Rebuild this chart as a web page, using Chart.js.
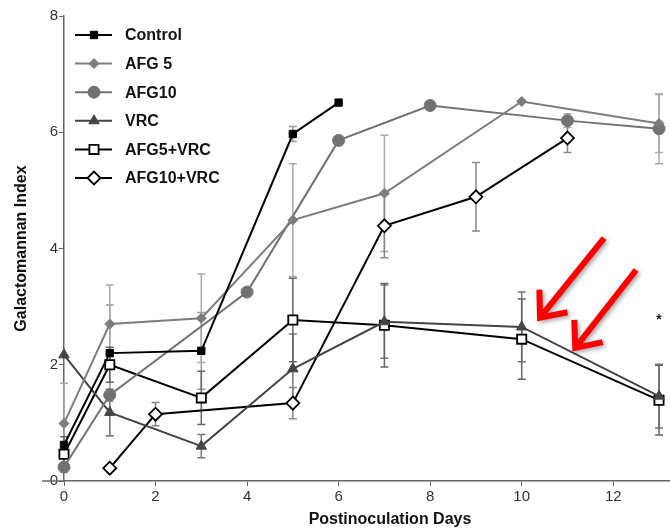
<!DOCTYPE html>
<html><head><meta charset="utf-8">
<script src="https://cdn.jsdelivr.net/npm/chart.js@4/dist/chart.umd.min.js"></script>
<style>html,body{margin:0;padding:0;background:#fff}#wrap{width:670px;height:529px;position:relative}</style>
</head><body><div id="wrap"><canvas id="c"></canvas></div>
<script>
// ---- data ----
const seriesNames = ['Control','AFG 5','AFG10','VRC','AFG5+VRC','AFG10+VRC'];
const controlDays  = [0,1,3,5,6];
const controlGM    = [0.62,2.20,2.24,5.97,6.51];
const controlErr   = [null,0.83,0.66,0.13,null];
const afg5Days     = [0,1,3,5,7,10,13];
const afg5GM       = [0.99,2.70,2.80,4.49,4.95,6.53,6.15];
const afg5Err      = [0.69,0.67,0.76,0.97,1.0,null,0.5];
const afg10Days    = [0,1,4,6,8,11,13];
const afg10GM      = [0.24,1.48,3.25,5.86,6.46,6.20,6.06];
const afg10Err     = [null,0.7,null,null,null,0.12,0.6];
const vrcDays      = [0,1,3,5,7,10,13];
const vrcGM        = [2.17,1.18,0.60,1.93,2.74,2.65,1.46];
const vrcErr       = [null,0.4,0.2,0.6,0.63,0.6,0.55];
const afg5vrcDays  = [0,1,3,5,7,10,13];
const afg5vrcGM    = [0.46,2.00,1.43,2.77,2.68,2.44,1.39];
const afg5vrcErr   = [0.3,0.3,0.46,0.72,0.72,0.69,0.6];
const afg10vrcDays = [1,2,5,7,9,11];
const afg10vrcGM   = [0.22,1.15,1.34,4.39,4.89,5.90];
const afg10vrcErr  = [null,0.2,0.27,0.55,0.59,0.25];
const xTickValues  = [0,2,4,6,8,10,12];
const yTickValues  = [0,2,4,6,8];
const xTitle = 'Postinoculation Days';
const yTitle = 'Galactomannan Index';
// annotation arrows in data units: [startDay, startGM, tipDay, tipGM]
const arrowsData = [[11.8,4.18,10.4,2.81],[12.5,3.63,11.17,2.29]];
const starMark = {day:13, gm:2.82, text:'*'};

const FONT = '"Liberation Sans", Arial, Helvetica, sans-serif';
const pts = (d, v) => d.map((x, i) => ({x, y: v[i]}));

function ds(label, days, vals, errs, color, style, radius, fill, errColor, bw) {
  return {
    label, data: pts(days, vals), errors: errs, errColor,
    borderColor: color, backgroundColor: fill,
    pointBackgroundColor: fill, pointBorderColor: color,
    pointStyle: style, pointRadius: radius, pointHoverRadius: radius,
    pointBorderWidth: bw, borderWidth: 2, tension: 0, clip: false
  };
}

const datasets = [
  ds(seriesNames[0], controlDays, controlGM, controlErr, '#000000', 'rect', 5.2, '#000000', '#999999', 1),
  ds(seriesNames[1], afg5Days, afg5GM, afg5Err, '#7d7d7d', 'rectRot', 5, '#7d7d7d', '#aaaaaa', 1),
  ds(seriesNames[2], afg10Days, afg10GM, afg10Err, '#727272', 'circle', 6, '#727272', '#aaaaaa', 1),
  ds(seriesNames[3], vrcDays, vrcGM, vrcErr, '#444444', 'triangle', 6, '#444444', '#777777', 1),
  ds(seriesNames[4], afg5vrcDays, afg5vrcGM, afg5vrcErr, '#000000', 'rect', 6.5, '#ffffff', '#666666', 1.8),
  ds(seriesNames[5], afg10vrcDays, afg10vrcGM, afg10vrcErr, '#000000', 'rectRot', 6.5, '#ffffff', '#888888', 1.8)
];

const errorBars = {
  id: 'errorBars',
  beforeDatasetsDraw(chart) {
    const ctx = chart.ctx, y = chart.scales.y;
    chart.data.datasets.forEach((d, i) => {
      const meta = chart.getDatasetMeta(i);
      ctx.save();
      ctx.strokeStyle = d.errColor; ctx.lineWidth = 1.5;
      meta.data.forEach((p, j) => {
        const e = d.errors[j];
        if (e == null) return;
        const v = d.data[j].y;
        const top = y.getPixelForValue(v + e), bot = y.getPixelForValue(v - e);
        ctx.beginPath();
        ctx.moveTo(p.x, top); ctx.lineTo(p.x, bot);
        ctx.moveTo(p.x - 4, top); ctx.lineTo(p.x + 4, top);
        ctx.moveTo(p.x - 4, bot); ctx.lineTo(p.x + 4, bot);
        ctx.stroke();
      });
      ctx.restore();
    });
  }
};

const extras = {
  id: 'extras',
  afterDraw(chart) {
    const ctx = chart.ctx, ca = chart.chartArea, sx = chart.scales.x, sy = chart.scales.y;
    ctx.save();
    // x-axis line extension to the left of the y axis
    ctx.strokeStyle = '#666'; ctx.lineWidth = 1.5;
    ctx.beginPath(); ctx.moveTo(ca.left - 22, ca.bottom); ctx.lineTo(ca.left, ca.bottom); ctx.stroke();
    // axis titles
    ctx.fillStyle = '#111';
    ctx.font = 'bold 16px ' + FONT;
    ctx.textAlign = 'center'; ctx.textBaseline = 'middle';
    ctx.fillText(xTitle, (ca.left + ca.right) / 2 + 23, ca.bottom + 39);
    ctx.save();
    ctx.translate(22, (ca.top + ca.bottom) / 2);
    ctx.rotate(-Math.PI / 2);
    ctx.fillText(yTitle, 0, 0);
    ctx.restore();
    // legend
    chart.data.datasets.forEach((d, i) => {
      const ly = ca.top + 19 + i * 28.6;
      const lx = ca.left + 11;
      ctx.strokeStyle = d.borderColor; ctx.lineWidth = 2;
      ctx.beginPath(); ctx.moveTo(lx, ly); ctx.lineTo(lx + 37, ly); ctx.stroke();
      ctx.fillStyle = d.pointBackgroundColor; ctx.strokeStyle = d.pointBorderColor;
      ctx.lineWidth = d.pointBorderWidth;
      Chart.helpers.drawPoint(ctx, {pointStyle: d.pointStyle, radius: d.pointRadius, rotation: 0, borderWidth: d.pointBorderWidth}, lx + 19, ly);
      ctx.fillStyle = '#111';
      ctx.font = 'bold 16px ' + FONT;
      ctx.textAlign = 'left'; ctx.textBaseline = 'middle';
      ctx.fillText(d.label, lx + 50, ly + 1);
    });
    // asterisk
    ctx.fillStyle = '#222';
    ctx.font = 'bold 14px ' + FONT;
    ctx.textAlign = 'center';
    ctx.fillText(starMark.text, sx.getPixelForValue(starMark.day), sy.getPixelForValue(starMark.gm) + 3);
    // red arrows
    arrowsData.forEach(a => {
      const x1 = sx.getPixelForValue(a[0]), y1 = sy.getPixelForValue(a[1]);
      const x2 = sx.getPixelForValue(a[2]), y2 = sy.getPixelForValue(a[3]);
      const ang = Math.atan2(y2 - y1, x2 - x1);
      const L = 28, spread = 0.7;
      ctx.save();
      ctx.shadowColor = 'rgba(0,0,0,0.35)'; ctx.shadowBlur = 4; ctx.shadowOffsetX = 2; ctx.shadowOffsetY = 2;
      ctx.strokeStyle = '#ff0000'; ctx.lineWidth = 6; ctx.lineCap = 'butt'; ctx.lineJoin = 'miter';
      ctx.beginPath();
      ctx.moveTo(x1, y1); ctx.lineTo(x2, y2);
      ctx.moveTo(x2 - L * Math.cos(ang - spread), y2 - L * Math.sin(ang - spread));
      ctx.lineTo(x2, y2);
      ctx.lineTo(x2 - L * Math.cos(ang + spread), y2 - L * Math.sin(ang + spread));
      ctx.stroke();
      ctx.restore();
    });
    ctx.restore();
  }
};

new Chart(document.getElementById('c'), {
  type: 'line',
  data: { datasets },
  options: {
    responsive: true, maintainAspectRatio: false, animation: false,
    layout: { autoPadding: false, padding: { top: 16, right: 0, left: 0, bottom: 0 } },
    plugins: { legend: { display: false }, tooltip: { enabled: false } },
    scales: {
      x: {
        type: 'linear', min: 0, max: 13.24,
        border: { color: '#666', width: 1.5 },
        grid: { drawOnChartArea: false, tickLength: 5, color: '#666' },
        ticks: { stepSize: 2, includeBounds: false, color: '#333', font: { family: FONT, size: 15 }, padding: 2,
                 callback: v => xTickValues.includes(v) ? String(v) : '' },
        afterFit: s => { s.height = 48; s.paddingRight = 0; s.paddingLeft = 0; }
      },
      y: {
        min: 0, max: 8,
        border: { color: '#666', width: 1.5 },
        grid: { drawOnChartArea: false, tickLength: 5, color: '#666' },
        ticks: { stepSize: 2, color: '#333', font: { family: FONT, size: 15 }, padding: 1,
                 callback: v => yTickValues.includes(v) ? String(v) : '' },
        afterFit: s => { s.width = 64; }
      }
    }
  },
  plugins: [errorBars, extras]
});
</script>
</body></html>
